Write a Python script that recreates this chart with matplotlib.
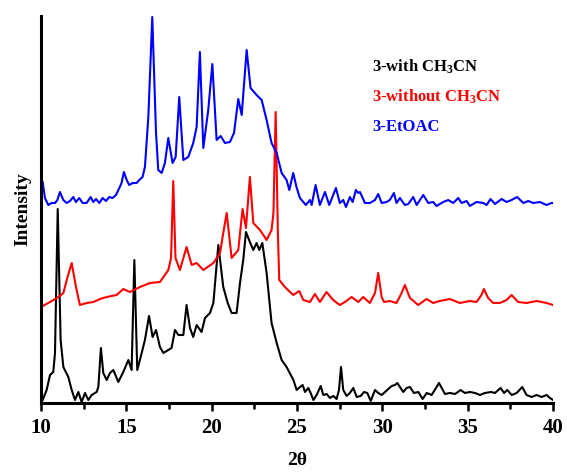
import matplotlib
matplotlib.use('Agg')
import matplotlib.pyplot as plt
from matplotlib.ticker import MultipleLocator

# 3-with CH3CN (black)
twotheta_with = [10.10, 10.33, 10.53, 10.72, 10.82, 10.98, 11.15, 11.31, 11.60, 11.80,
                 11.99, 12.19, 12.38, 12.58, 12.77, 12.97, 13.26, 13.36, 13.51, 13.65,
                 13.85, 14.04, 14.24, 14.53, 14.82, 15.12, 15.31, 15.47, 15.64, 15.84,
                 16.09, 16.33, 16.54, 16.74, 16.97, 17.17, 17.46, 17.65, 17.85, 18.05,
                 18.34, 18.53, 18.73, 18.92, 19.12, 19.41, 19.61, 19.90, 20.10, 20.39,
                 20.68, 20.94, 21.17, 21.46, 21.66, 21.85, 22.01, 22.24, 22.44, 22.63,
                 22.79, 22.97, 23.22, 23.51, 23.81, 24.10, 24.39, 24.79, 24.98, 25.18,
                 25.33, 25.47, 25.66, 25.80, 25.96, 26.15, 26.39, 26.54, 26.74, 26.93,
                 27.13, 27.32, 27.46, 27.58, 27.71, 27.91, 28.10, 28.30, 28.50, 28.73,
                 28.93, 29.12, 29.32, 29.57, 29.76, 29.96, 30.16, 30.35, 30.55, 30.74,
                 30.88, 31.03, 31.23, 31.42, 31.62, 31.85, 32.11, 32.36, 32.60, 32.89,
                 33.14, 33.32, 33.48, 33.67, 33.96, 34.26, 34.59, 34.84, 35.13, 35.43,
                 35.72, 36.01, 36.37, 36.60, 36.93, 37.13, 37.32, 37.58, 37.87, 38.20,
                 38.45, 38.75, 39.04, 39.33, 39.63, 39.82, 40.00]
intensity_with = [3, 13, 28, 31, 50, 194, 63, 36, 26, 13,
                  3, 11, 1, 10, 3, 8, 11, 16, 55, 30,
                  23, 30, 33, 21, 31, 43, 33, 143, 33, 46,
                  63, 87, 66, 73, 56, 50, 53, 55, 73, 68,
                  68, 98, 75, 66, 78, 71, 85, 90, 100, 158,
                  116, 100, 90, 90, 120, 143, 171, 161, 153, 160,
                  153, 160, 130, 80, 60, 43, 36, 23, 13, 16,
                  18, 11, 15, 10, 3, 8, 17, 8, 9, 5,
                  7, 4, 13, 36, 13, 7, 10, 15, 6, 7,
                  11, 10, 2, 13, 10, 8, 11, 14, 17, 18,
                  20, 16, 11, 15, 16, 10, 11, 4, 10, 8,
                  15, 20, 15, 9, 10, 9, 13, 10, 11, 10,
                  8, 10, 11, 10, 15, 10, 13, 8, 10, 16,
                  8, 6, 8, 6, 8, 5, 3]

# 3-without CH3CN (red)
twotheta_without = [10.10, 10.53, 11.02, 11.31, 11.54, 11.80, 12.05, 12.28, 12.68, 13.07,
                    13.46, 13.85, 14.43, 14.82, 15.21, 15.80, 16.39, 16.97, 17.26, 17.46,
                    17.62, 17.75, 17.88, 18.14, 18.53, 18.83, 19.12, 19.51, 20.10, 20.49,
                    20.68, 20.88, 21.17, 21.56, 21.81, 22.01, 22.24, 22.44, 22.83, 23.22,
                    23.51, 23.62, 23.75, 23.88, 23.96, 24.29, 24.78, 25.13, 25.37, 25.76,
                    26.05, 26.34, 26.73, 27.12, 27.51, 27.81, 28.20, 28.59, 28.88, 29.27,
                    29.57, 29.76, 29.96, 30.10, 30.44, 30.83, 31.13, 31.32, 31.62, 32.10,
                    32.59, 32.98, 33.37, 33.96, 34.54, 35.13, 35.52, 35.81, 35.95, 36.20,
                    36.50, 36.89, 37.28, 37.57, 37.96, 38.45, 39.04, 39.62, 40.00]
intensity_without = [97, 101, 106, 110, 125, 140, 116, 98, 100, 101,
                     104, 106, 108, 114, 111, 116, 120, 121, 128, 133,
                     145, 222, 145, 133, 156, 138, 140, 133, 140, 150,
                     170, 190, 145, 153, 194, 175, 226, 180, 173, 163,
                     173, 190, 291, 170, 123, 116, 108, 112, 103, 101,
                     109, 101, 111, 103, 98, 101, 106, 101, 106, 100,
                     110, 130, 106, 101, 102, 100, 110, 118, 105, 98,
                     104, 100, 102, 104, 100, 102, 101, 108, 114, 105,
                     100, 100, 103, 108, 101, 100, 102, 100, 98]

# 3-EtOAC (blue)
twotheta_etoac = [10.10, 10.23, 10.43, 10.62, 10.82, 10.96, 11.11, 11.31, 11.50, 11.70,
                  11.89, 12.05, 12.24, 12.44, 12.67, 12.91, 13.06, 13.22, 13.42, 13.61,
                  13.81, 14.00, 14.20, 14.39, 14.59, 14.72, 14.86, 15.02, 15.17, 15.37,
                  15.60, 15.76, 15.95, 16.09, 16.29, 16.52, 16.74, 16.87, 17.07, 17.26,
                  17.46, 17.71, 17.89, 18.10, 18.34, 18.63, 18.92, 19.12, 19.31, 19.51,
                  19.80, 20.04, 20.29, 20.53, 20.78, 21.07, 21.31, 21.56, 21.76, 22.05,
                  22.28, 22.63, 22.93, 23.22, 23.51, 23.81, 24.10, 24.39, 24.55, 24.78,
                  24.97, 25.17, 25.37, 25.52, 25.76, 25.86, 26.09, 26.34, 26.64, 26.89,
                  27.28, 27.51, 27.71, 27.87, 28.10, 28.26, 28.45, 28.59, 28.69, 28.98,
                  29.27, 29.57, 29.76, 29.96, 30.25, 30.44, 30.68, 30.83, 31.03, 31.32,
                  31.52, 31.81, 32.01, 32.40, 32.69, 32.98, 33.18, 33.57, 33.86, 34.15,
                  34.45, 34.64, 34.94, 35.13, 35.52, 35.91, 36.11, 36.34, 36.60, 36.99,
                  37.28, 37.57, 37.90, 38.26, 38.55, 38.84, 39.23, 39.62, 39.91, 40.00]
intensity_etoac = [221, 205, 198, 200, 200, 203, 211, 203, 200, 202,
                   206, 201, 205, 200, 200, 206, 201, 204, 200, 205,
                   202, 206, 205, 208, 215, 220, 231, 223, 218, 220,
                   220, 223, 226, 236, 286, 386, 270, 233, 230, 240,
                   265, 240, 246, 306, 243, 246, 260, 276, 351, 255,
                   293, 339, 263, 267, 260, 261, 270, 304, 288, 353,
                   315, 308, 303, 283, 260, 250, 230, 223, 213, 230,
                   216, 205, 201, 198, 203, 198, 218, 198, 211, 198,
                   215, 200, 203, 196, 206, 201, 213, 210, 211, 200,
                   200, 203, 209, 200, 201, 203, 210, 200, 205, 198,
                   199, 206, 198, 208, 200, 201, 197, 201, 203, 200,
                   205, 200, 202, 197, 201, 200, 198, 204, 199, 204,
                   201, 203, 206, 200, 202, 200, 201, 198, 200, 200]

series_labels = ['3-with CH$_3$CN', '3-without CH$_3$CN', '3-EtOAC']
series_colors = ['black', 'red', 'blue']

plt.rcParams['font.family'] = 'Liberation Serif'
plt.rcParams['font.weight'] = 'bold'
plt.rcParams['mathtext.fontset'] = 'custom'
plt.rcParams['mathtext.rm'] = 'Liberation Serif:bold'
plt.rcParams['mathtext.it'] = 'Liberation Serif:bold'
plt.rcParams['mathtext.bf'] = 'Liberation Serif:bold'

fig = plt.figure(figsize=(5.67, 4.75), dpi=100)
ax = fig.add_axes([0.0723, 0.1516, 0.9030, 0.8147])

traces = [(twotheta_with, intensity_with),
          (twotheta_without, intensity_without),
          (twotheta_etoac, intensity_etoac)]
for (x, y), color in zip(traces, series_colors):
    ax.plot(x, y, color=color, linewidth=1.5)

ax.set_xlim(10, 40)
ax.set_ylim(0, 387)
ax.xaxis.set_major_locator(MultipleLocator(5))
ax.xaxis.set_minor_locator(MultipleLocator(2.5))
ax.set_yticks([])

for side in ['top', 'right']:
    ax.spines[side].set_visible(False)
for side in ['left', 'bottom']:
    ax.spines[side].set_linewidth(2.2)

ax.tick_params(axis='x', which='major', direction='out', length=6, width=1.8,
               labelsize=15, pad=5)
ax.tick_params(axis='x', which='minor', direction='out', length=4, width=1.8)

ax.set_xlabel('2θ', fontsize=14, fontweight='bold', labelpad=10)
ax.set_ylabel('Intensity', fontsize=14, fontweight='bold', labelpad=7)

# labels next to the traces instead of a legend box
label_y = [0.869, 0.791, 0.713]
for text, color, yy in zip(series_labels, series_colors, label_y):
    ax.text(0.6465, yy, text, color=color, fontsize=12, fontweight='bold',
            ha='left', va='center', transform=ax.transAxes)

fig.savefig('out.png', dpi=100)
